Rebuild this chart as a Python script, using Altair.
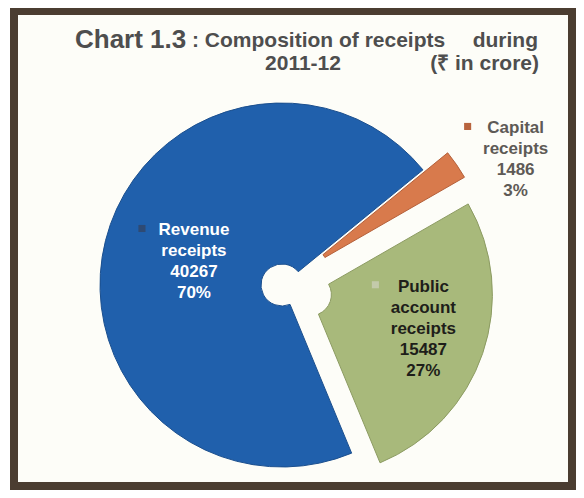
import math
import altair as alt
import pandas as pd

# ---- data ----
categories = ["Revenue receipts", "Capital receipts", "Public account receipts"]
values = [40267, 1486, 15487]
fill_colors = ["#2060AC", "#D87A4C", "#A8B97B"]
edge_colors = ["#1B4F8E", "#B4603A", "#8C9B62"]

total = sum(values)
df = pd.DataFrame({
    "cat": categories,
    "value": values,
    "ord": list(range(len(categories))),
})
df["label"] = [
    c.replace(" ", "\n") + "\n" + str(v) + "\n" + f"{round(v / total * 100)}%"
    for c, v in zip(categories, values)
]

# ---- geometry (chart coordinates) ----
CX, CY = 274, 277
R_OUT, R_IN = 182, 21
START = math.radians(157.5)
LH = 21

base = (
    alt.Chart(df)
    .transform_joinaggregate(total="sum(value)")
    .transform_window(cum="sum(value)", sort=[alt.SortField("ord")], frame=[None, 0])
    .transform_calculate(mid=f"{START} + 2*PI*(datum.cum - datum.value/2)/datum.total")
    .transform_calculate(ex="datum.ord == 0 ? 0 : 30")
    .transform_calculate(
        px=f"{CX} + datum.ex*sin(datum.mid)",
        py=f"{CY} - datum.ex*cos(datum.mid)",
    )
)

arcs = base.mark_arc(radius=R_OUT, radius2=R_IN, strokeWidth=1).encode(
    theta=alt.Theta(
        "value:Q",
        stack=True,
        scale=alt.Scale(domain=[0, total], range=[START, START + 2 * math.pi], nice=False),
    ),
    order=alt.Order("ord:Q"),
    color=alt.Color("cat:N", scale=alt.Scale(domain=categories, range=fill_colors), legend=None),
    stroke=alt.Stroke("cat:N", scale=alt.Scale(domain=categories, range=edge_colors), legend=None),
    x=alt.X("px:Q", scale=None, axis=None),
    y=alt.Y("py:Q", scale=None, axis=None),
)

lab = (
    base.transform_calculate(
        lr="datum.ord == 0 ? 91 : datum.ord == 1 ? 265 : 148",
        ld="datum.ord == 0 ? 0.009 : datum.ord == 1 ? 0.112 : -0.028",
        nl="length(split(datum.label, '\\n'))",
    )
    .transform_calculate(
        lx=f"{CX} + datum.lr*sin(datum.mid + datum.ld)",
        lcy=f"{CY} - datum.lr*cos(datum.mid + datum.ld)",
    )
    .transform_calculate(
        ly=f"datum.lcy - (datum.nl - 1)*{LH}/2",
        tcol="datum.ord == 0 ? '#FFFFFF' : datum.ord == 1 ? '#5E5A56' : '#1E1E1A'",
        mcol="datum.ord == 0 ? '#2E4A74' : datum.ord == 1 ? '#B8643E' : '#C3CAAA'",
        mdx="datum.ord == 0 ? -52 : -48",
    )
    .transform_calculate(mx="datum.lx + datum.mdx", my="datum.ly - 2")
)

labels = lab.mark_text(
    lineBreak="\n",
    lineHeight=LH,
    fontSize=17,
    fontWeight="bold",
    font="Liberation Sans",
    align="center",
    baseline="middle",
).encode(
    x=alt.X("lx:Q", scale=None, axis=None),
    y=alt.Y("ly:Q", scale=None, axis=None),
    text="label:N",
    color=alt.Color("tcol:N", scale=None, legend=None),
)

markers = lab.mark_square(size=50, opacity=1, filled=True).encode(
    x=alt.X("mx:Q", scale=None, axis=None),
    y=alt.Y("my:Q", scale=None, axis=None),
    color=alt.Color("mcol:N", scale=None, legend=None),
)

one = alt.Data(values=[{}])
frame = alt.Chart(one).mark_rect(fill="#FDFDF8", stroke="#4B3D31", strokeWidth=8).encode(
    x=alt.value(6), x2=alt.value(564), y=alt.value(3), y2=alt.value(478)
)


def title_text(txt, x, y, size, align):
    return alt.Chart(one).mark_text(
        text=txt,
        fontSize=size,
        fontWeight="bold",
        font="Liberation Sans",
        align=align,
        baseline="alphabetic",
        color="#4E4E4E",
    ).encode(x=alt.value(x), y=alt.value(y))


titles = [
    title_text("Chart 1.3", 67, 40, 26, "left"),
    title_text(": Composition of receipts", 184, 39, 21, "left"),
    title_text("during", 530, 39, 21, "right"),
    title_text("2011-12", 295, 62, 21, "center"),
    title_text("(₹ in crore)", 531, 62, 21, "right"),
]

chart = (
    alt.layer(frame, arcs, labels, markers, *titles)
    .properties(width=568, height=482, autosize=alt.AutoSizeParams(type="none"), padding=0)
    .configure_view(strokeWidth=0)
)

chart.save("out.html", embed_options={"renderer": "svg", "actions": False})
